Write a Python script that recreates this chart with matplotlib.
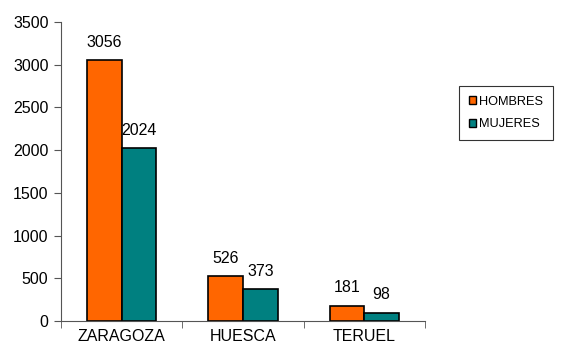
import matplotlib
matplotlib.use("Agg")
import matplotlib.pyplot as plt
import numpy as np
from matplotlib.patches import Patch

categories = ["ZARAGOZA", "HUESCA", "TERUEL"]
hombres = [3056, 526, 181]
mujeres = [2024, 373, 98]
series_names = ["HOMBRES", "MUJERES"]
colors = ["#FF6600", "#008080"]

plt.rcParams['font.family'] = ['Liberation Sans', 'DejaVu Sans']

fig = plt.figure(figsize=(5.61, 3.47), dpi=100)
ax = fig.add_axes([61/561, 1-321/347, (425-61)/561, (321-22)/347])

x = np.arange(len(categories))
w = 0.285
b1 = ax.bar(x - w/2, hombres, w, color=colors[0], edgecolor="black", linewidth=1.2)
b2 = ax.bar(x + w/2, mujeres, w, color=colors[1], edgecolor="black", linewidth=1.2)

for bars, vals in ((b1, hombres), (b2, mujeres)):
    for r, v in zip(bars, vals):
        ax.text(r.get_x() + r.get_width()/2, v + 120, str(v), ha="center", va="bottom", fontsize=11.5)

ax.set_xlim(-0.5, 2.5)
ax.set_ylim(0, 3500)
ax.set_yticks(np.arange(0, 3501, 500))
ax.set_xticks(x)
ax.set_xticklabels(categories, fontsize=11.5)
ax.set_xticks([-0.5, 0.5, 1.5, 2.5], minor=True)
ax.tick_params(axis="x", which="major", length=0, pad=6)
ax.tick_params(axis="x", which="minor", length=5, color="#555555")
ax.tick_params(axis="y", length=5, color="#555555", labelsize=11.5, pad=4)
for s in ("top", "right"):
    ax.spines[s].set_visible(False)
for s in ("left", "bottom"):
    ax.spines[s].set_color("#555555")

handles = [Patch(facecolor=c, edgecolor="black", linewidth=1) for c in colors]
leg = fig.legend(handles, series_names, loc="upper left", bbox_to_anchor=(459/561, 1-86/347),
                 fontsize=9.2, frameon=True, fancybox=False, edgecolor="black",
                 handlelength=0.55, handleheight=0.55, handletextpad=0.3,
                 labelspacing=0.85, borderpad=0.75, borderaxespad=0)
leg.get_frame().set_linewidth(0.8)

fig.savefig("out.png", dpi=100)
